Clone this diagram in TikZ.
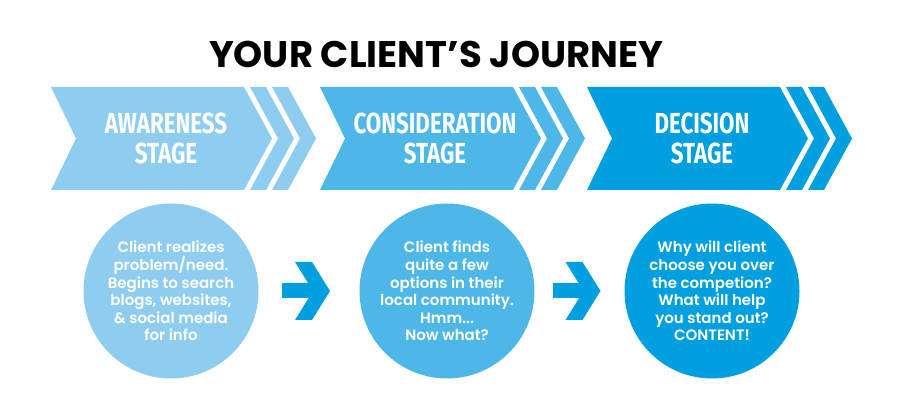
\documentclass[tikz,border=0pt]{standalone}
\usepackage{fontspec}
\usetikzlibrary{calc}
\setmainfont{Poppins}
\newfontfamily\stagefont{Fira Sans}[FakeStretch=0.77]
\newfontfamily\circfont{Poppins SemiBold}
\definecolor{cA}{HTML}{8FCDF0}
\definecolor{cB}{HTML}{4DB8E8}
\definecolor{cC}{HTML}{009FE0}
\begin{document}
\begin{tikzpicture}[x=1pt,y=-1pt,
  stagetxt/.style={text=white,font=\stagefont\bfseries\fontsize{29}{30}\selectfont,align=center,inner sep=0pt},
  circtxt/.style={circle,minimum size=175pt,inner sep=0pt,text=white,font=\circfont\fontsize{15}{17.6}\selectfont,align=center},
  titletxt/.style={font=\bfseries\fontsize{37}{40}\selectfont,text=black,inner sep=0pt},
  blockarrow/.style={fill=cC}
]
\useasboundingbox[fill=white] (0,0) rectangle (900,419);
\node[titletxt,anchor=base] (title) at (436,68) {YOUR CLIENT’S JOURNEY};
\foreach \L/\col/\name/\txt in {51/cA/aw/{AWARENESS\\STAGE},320/cB/co/{CONSIDERATION\\STAGE},587/cC/de/{DECISION\\STAGE}}{
  \fill[\col] (\L,87) -- (\L+193,87) -- (\L+221,138.5) -- (\L+193,190) -- (\L,190) -- (\L+25,138.5) -- cycle;
  \fill[\col] (\L+199,87) -- (\L+215,87) -- (\L+243,138.5) -- (\L+215,190) -- (\L+199,190) -- (\L+227,138.5) -- cycle;
  \fill[\col] (\L+221,87) -- (\L+237,87) -- (\L+265,138.5) -- (\L+237,190) -- (\L+221,190) -- (\L+249,138.5) -- cycle;
  \node[stagetxt] (\name) at (\L+115,138) {\txt};
}
\node[circtxt,fill=cA] (c1) at (171,291) {Client realizes\\problem/need.\\Begins to search\\blogs, websites,\\\& social media\\for info};
\node[circtxt,fill=cB] (c2) at (447,291) {Client finds\\quite a few\\options in their\\local community.\\Hmm...\\Now what?};
\node[circtxt,fill=cC] (c3) at (712,291) {Why will client\\choose you over\\the competion?\\What will help\\you stand out?\\CONTENT!};
\coordinate (a1) at ($(c1.east)!0.5!(c2.west)+(21,0)$);
\coordinate (a2) at ($(c2.east)!0.5!(c3.west)+(21,0)$);
\foreach \a in {a1,a2}{
  \fill[blockarrow,shift={(\a)}] (-48,-7.5) rectangle (-14,7.5);
  \fill[blockarrow,shift={(\a)}] (-35,-29) -- (-18,-29) -- (0,0) -- (-18,29) -- (-35,29) -- (-17,0) -- cycle;
}
\end{tikzpicture}
\end{document}
